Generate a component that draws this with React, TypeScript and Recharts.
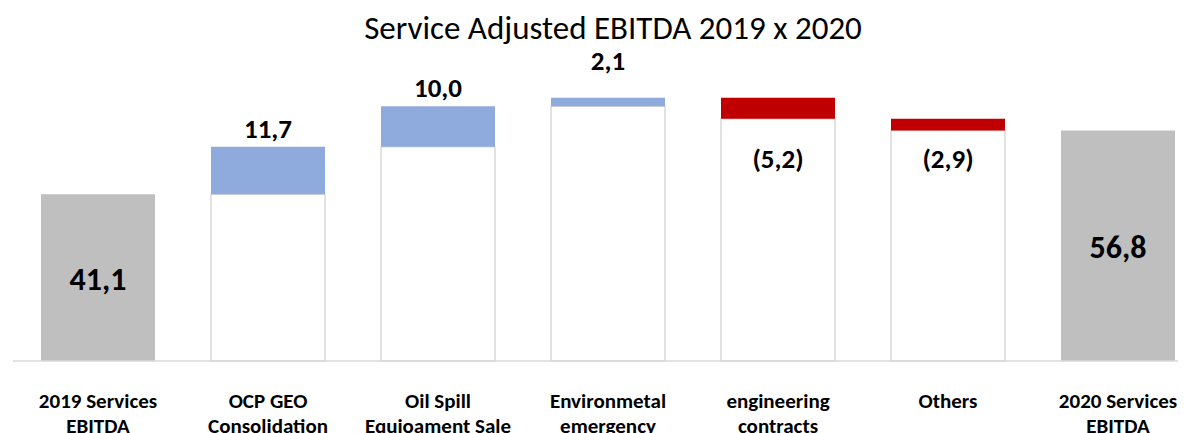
import { BarChart, Bar, XAxis, YAxis, Cell, LabelList } from 'recharts'

const categories = [
  '2019 Services\nEBITDA',
  'OCP GEO\nConsolidation',
  'Oil Spill\nEquioament Sale',
  'Environmetal\nemergency',
  'engineering\ncontracts',
  'Others',
  '2020 Services\nEBITDA',
]

// total = full bar from zero, step = change on top of the running sum
const kinds = ['total', 'step', 'step', 'step', 'step', 'step', 'total']
const values = [41.1, 11.7, 10.0, 2.1, -5.2, -2.9, 56.8]

const GRAY = '#bfbfbf'
const BLUE = '#8faadc'
const RED = '#c00000'
const FONT = 'Carlito, Lato, sans-serif'

const fmt = (v: number) => {
  const s = Math.abs(v).toFixed(1).replace('.', ',')
  return v < 0 ? `(${s})` : s
}

// build base/delta rows for the stacked waterfall
let running = 0
const rows = categories.map((name, i) => {
  const v = values[i]
  if (kinds[i] === 'total') {
    running = v
    return { name, base: 0, delta: v, raw: v, kind: 'total' }
  }
  const start = running
  running += v
  return {
    name,
    base: v >= 0 ? start : running,
    delta: Math.abs(v),
    raw: v,
    kind: v >= 0 ? 'up' : 'down',
  }
})

const rowByName = (n: any) => rows.find(r => r.name === n)

const barColor = (kind: string) => (kind === 'total' ? GRAY : kind === 'up' ? BLUE : RED)

function DeltaLabel(props: any) {
  const { x, y, width, height, value } = props
  const row = rowByName(value)
  if (!row || row.kind === 'down') return null
  const cx = x + width / 2
  if (row.kind === 'total') {
    return (
      <text x={cx} y={y + height / 2} dy={12} textAnchor="middle" fontFamily={FONT} fontWeight="bold" fontSize={32} fill="#000">
        {fmt(row.raw)}
      </text>
    )
  }
  const lift = height < 15 ? 28 : 9
  return (
    <text x={cx} y={y - lift} textAnchor="middle" fontFamily={FONT} fontWeight="bold" fontSize={27} fill="#000">
      {fmt(row.raw)}
    </text>
  )
}

function BaseLabel(props: any) {
  const { x, y, width, height, value } = props
  const row = rowByName(value)
  if (!row || row.kind !== 'down') return null
  return (
    <text x={x + width / 2} y={y + height - 193} textAnchor="middle" fontFamily={FONT} fontWeight="bold" fontSize={27} fill="#000">
      {fmt(row.raw)}
    </text>
  )
}

function CategoryTick(props: any) {
  const { x, y, payload } = props
  const lines = String(payload.value).split('\n')
  return (
    <text x={x} y={y} textAnchor="middle" fontFamily={FONT} fontWeight="bold" fontSize={21} fill="#000">
      {lines.map((l, i) => (
        <tspan key={i} x={x} dy={i === 0 ? 39 : 25}>
          {l}
        </tspan>
      ))}
    </text>
  )
}

export default function App() {
  return (
    <div style={{ position: 'relative', width: 1178, height: 425, overflow: 'hidden', background: '#fff' }}>
      <div
        style={{
          position: 'absolute',
          top: 1,
          left: 0,
          width: 1210,
          textAlign: 'center',
          fontFamily: FONT,
          fontSize: 33,
          lineHeight: 1.2,
          color: '#000',
        }}
      >
        Service Adjusted EBITDA 2019 x 2020
      </div>
      <BarChart
        width={1200}
        height={425}
        data={rows}
        margin={{ top: 69, right: 5, bottom: 12, left: 5 }}
        barSize={114}
      >
        <XAxis
          dataKey="name"
          interval={0}
          height={60}
          tickLine={false}
          axisLine={{ stroke: '#d9d9d9', strokeWidth: 1.5 }}
          tick={<CategoryTick />}
        />
        <YAxis hide domain={[0, 70]} />
        <Bar dataKey="base" stackId="w" isAnimationActive={false}>
          {rows.map((r, i) => (
            <Cell key={i} fill="#ffffff" stroke={r.base > 0 ? '#d9d9d9' : 'none'} strokeWidth={1.5} />
          ))}
          <LabelList dataKey="name" content={<BaseLabel />} />
        </Bar>
        <Bar dataKey="delta" stackId="w" isAnimationActive={false}>
          {rows.map((r, i) => (
            <Cell key={i} fill={barColor(r.kind)} />
          ))}
          <LabelList dataKey="name" content={<DeltaLabel />} />
        </Bar>
      </BarChart>
    </div>
  )
}
